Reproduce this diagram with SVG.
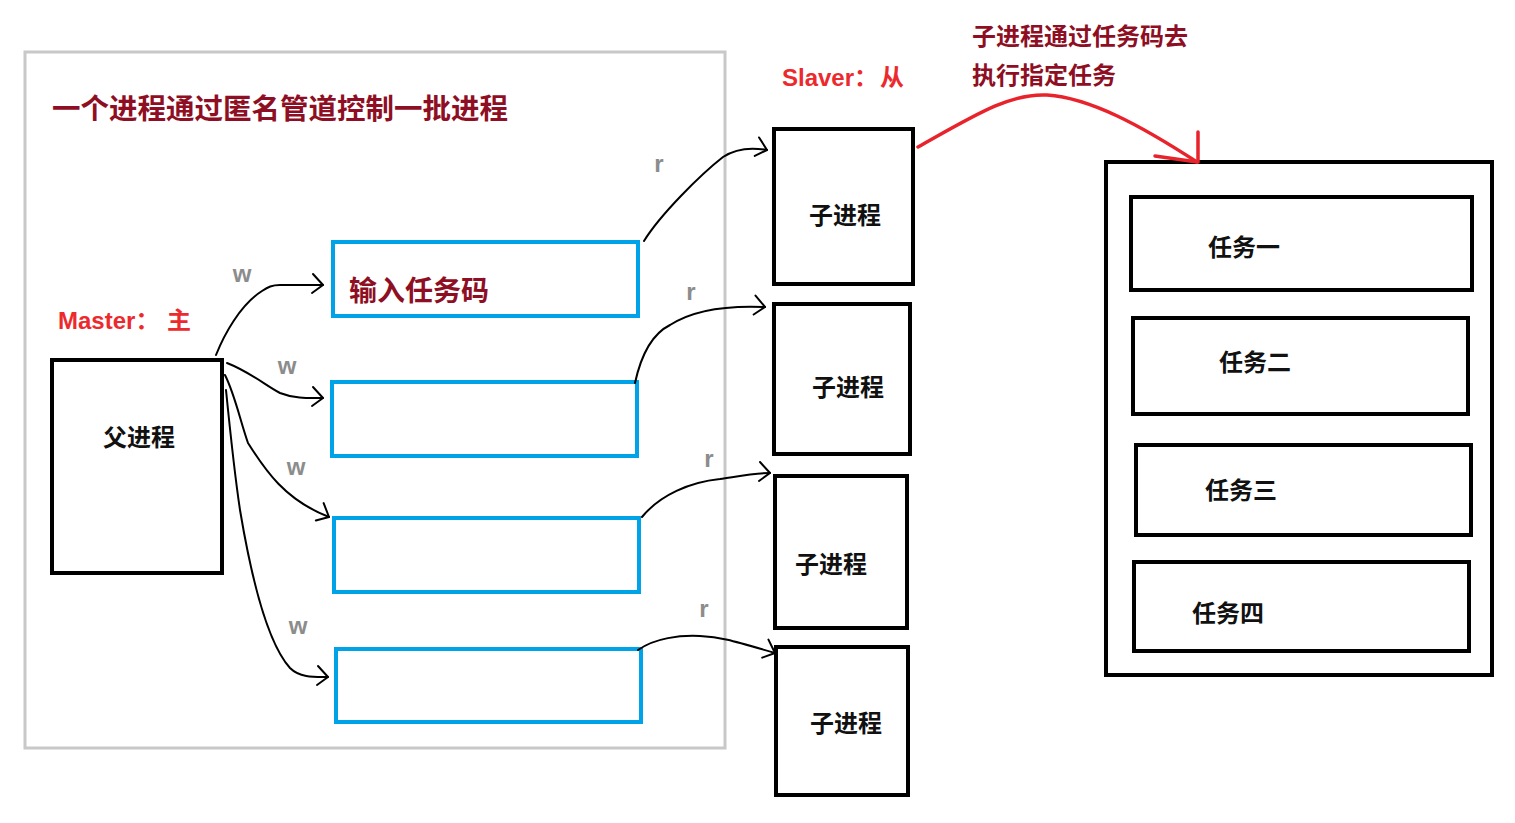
<svg xmlns="http://www.w3.org/2000/svg" width="1515" height="823" viewBox="0 0 1515 823">
<defs>
<style>
.bg{fill:#ffffff}
.frame{fill:none;stroke:#c8c8c8;stroke-width:3}
.box{fill:#ffffff;stroke:#000000;stroke-width:4}
.pipe{fill:#ffffff;stroke:#00a2e8;stroke-width:4}
.cjk{font-family:"Noto Sans CJK SC","Liberation Sans",sans-serif;font-weight:bold}
.lat{font-family:"Liberation Sans","Noto Sans CJK SC",sans-serif;font-weight:bold}
.dark{fill:#8e0f24}
.red{fill:#ec2a2d}
.blk{fill:#111111}
.gray{fill:#8c8c8c}
.conn{fill:none;stroke:#000000;stroke-width:2;stroke-linecap:round;stroke-linejoin:round}
.redline{fill:none;stroke:#e8232b;stroke-width:3.5;stroke-linecap:round;stroke-linejoin:round}
</style>
<marker id="chev" markerUnits="userSpaceOnUse" markerWidth="30" markerHeight="30" refX="0" refY="0" viewBox="-15 -15 30 30" orient="auto">
<path d="M-10,-11 L0,0 L-11,8" fill="none" stroke="#000000" stroke-width="2" stroke-linecap="round" stroke-linejoin="round"/>
</marker>
</defs>
<rect class="bg" x="0" y="0" width="1515" height="823"/>

<g id="frame">
<rect class="frame" x="25" y="52" width="700" height="696"/>
<text class="cjk dark" x="52" y="118.5" font-size="28.5">一个进程通过匿名管道控制一批进程</text>
</g>

<g id="labels">
<text class="lat red" x="58" y="329" font-size="24">Master<tspan class="cjk">：</tspan><tspan class="cjk" x="167">主</tspan></text>
<text class="lat red" x="782" y="86" font-size="24">Slaver<tspan class="cjk">：</tspan><tspan class="cjk" x="880">从</tspan></text>
<text class="cjk dark" x="972" y="45" font-size="24">子进程通过任务码去</text>
<text class="cjk dark" x="972" y="84" font-size="24">执行指定任务</text>
</g>

<g id="parent">
<rect class="box" x="52" y="360" width="170" height="213"/>
<text class="cjk blk" x="139" y="446" font-size="24" text-anchor="middle">父进程</text>
</g>

<g id="pipe1">
<rect class="pipe" x="333" y="242" width="305" height="74"/>
<text class="cjk dark" x="349" y="300.5" font-size="28">输入任务码</text>
</g>
<g id="pipe2"><rect class="pipe" x="332" y="382" width="305" height="74"/></g>
<g id="pipe3"><rect class="pipe" x="334" y="518" width="305" height="74"/></g>
<g id="pipe4"><rect class="pipe" x="336" y="649" width="305" height="73"/></g>

<g id="child1">
<rect class="box" x="774" y="129" width="139" height="155"/>
<text class="cjk blk" x="845" y="224" font-size="24" text-anchor="middle">子进程</text>
</g>
<g id="child2">
<rect class="box" x="774" y="304" width="136" height="150"/>
<text class="cjk blk" x="848" y="396" font-size="24" text-anchor="middle">子进程</text>
</g>
<g id="child3">
<rect class="box" x="775" y="476" width="132" height="152"/>
<text class="cjk blk" x="831" y="573" font-size="24" text-anchor="middle">子进程</text>
</g>
<g id="child4">
<rect class="box" x="776" y="647" width="132" height="148"/>
<text class="cjk blk" x="846" y="732" font-size="24" text-anchor="middle">子进程</text>
</g>

<g id="tasks">
<rect class="box" x="1106" y="162" width="386" height="513"/>
</g>
<g id="task1">
<rect class="box" x="1131" y="197" width="341" height="93"/>
<text class="cjk blk" x="1244" y="256" font-size="24" text-anchor="middle">任务一</text>
</g>
<g id="task2">
<rect class="box" x="1133" y="318" width="335" height="96"/>
<text class="cjk blk" x="1255" y="371" font-size="24" text-anchor="middle">任务二</text>
</g>
<g id="task3">
<rect class="box" x="1136" y="445" width="335" height="90"/>
<text class="cjk blk" x="1241" y="499" font-size="24" text-anchor="middle">任务三</text>
</g>
<g id="task4">
<rect class="box" x="1134" y="562" width="335" height="89"/>
<text class="cjk blk" x="1228" y="622" font-size="24" text-anchor="middle">任务四</text>
</g>

<g id="connectors">
<path class="conn" marker-end="url(#chev)" d="M216,355 C224,335 240,305 262,291 C268,287 272,285 280,285 L323,285"/>
<path class="conn" marker-end="url(#chev)" d="M227,363 C250,372 265,385 280,393 C295,399 310,398 323,398"/>
<path class="conn" marker-end="url(#chev)" d="M225,375 C235,395 240,420 248,443 C265,470 285,500 329,517"/>
<path class="conn" marker-end="url(#chev)" d="M226,390 C230,430 234,470 240,510 C250,570 265,640 290,668 C300,678 315,677 328,677"/>
<path class="conn" marker-end="url(#chev)" d="M644,241 C660,215 700,175 723,157 C735,149 750,147 767,150"/>
<path class="conn" marker-end="url(#chev)" d="M635,383 C640,360 650,335 670,325 C690,312 720,305 765,307"/>
<path class="conn" marker-end="url(#chev)" d="M642,517 C660,495 690,482 720,479 C740,476 755,473 770,473"/>
<path class="conn" marker-end="url(#chev)" d="M638,650 C655,638 680,635 700,636 C720,637 730,640 775,653"/>
<path class="redline" d="M918,147 C975,115 1010,93 1047,95 C1090,98 1140,125 1197,162"/>
<path class="redline" d="M1198,132 L1198,162 M1155,156 L1197,162"/>
<text class="lat gray" x="242" y="282" font-size="24" text-anchor="middle">w</text>
<text class="lat gray" x="287" y="374" font-size="24" text-anchor="middle">w</text>
<text class="lat gray" x="296" y="475" font-size="24" text-anchor="middle">w</text>
<text class="lat gray" x="298" y="634" font-size="24" text-anchor="middle">w</text>
<text class="lat gray" x="659" y="172" font-size="24" text-anchor="middle">r</text>
<text class="lat gray" x="691" y="300" font-size="24" text-anchor="middle">r</text>
<text class="lat gray" x="709" y="467" font-size="24" text-anchor="middle">r</text>
<text class="lat gray" x="704" y="617" font-size="24" text-anchor="middle">r</text>
</g>
</svg>
